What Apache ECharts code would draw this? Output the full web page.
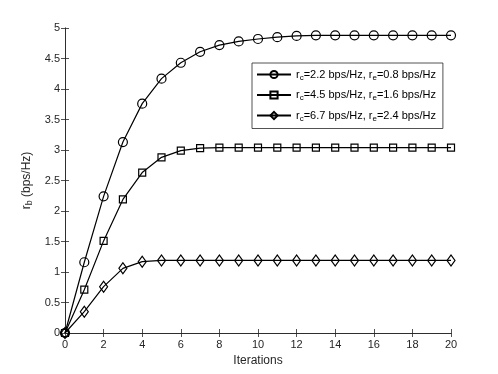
<!DOCTYPE html>
<html>
<head>
<meta charset="utf-8">
<script src="https://cdn.jsdelivr.net/npm/echarts@6/dist/echarts.min.js"></script>
<style>
  html, body { margin: 0; padding: 0; background: #fff; }
  #chart { width: 498px; height: 374px; }
</style>
</head>
<body>
<div id="chart"></div>
<script>
// iterations on the x axis
var iterations = [0, 1, 2, 3, 4, 5, 6, 7, 8, 9, 10, 11, 12, 13, 14, 15, 16, 17, 18, 19, 20];

// r_b values
var rate1 = [0, 1.16, 2.24, 3.13, 3.76, 4.17, 4.43, 4.61, 4.72, 4.78, 4.82, 4.85, 4.87, 4.88, 4.88, 4.88, 4.88, 4.88, 4.88, 4.88, 4.88];
var rate2 = [0, 0.71, 1.51, 2.19, 2.63, 2.88, 2.99, 3.03, 3.04, 3.04, 3.04, 3.04, 3.04, 3.04, 3.04, 3.04, 3.04, 3.04, 3.04, 3.04, 3.04];
var rate3 = [0, 0.35, 0.76, 1.06, 1.17, 1.19, 1.19, 1.19, 1.19, 1.19, 1.19, 1.19, 1.19, 1.19, 1.19, 1.19, 1.19, 1.19, 1.19, 1.19, 1.19];

var names = [
    'r{sub|c}=2.2 bps/Hz, r{sub|e}=0.8 bps/Hz',
    'r{sub|c}=4.5 bps/Hz, r{sub|e}=1.6 bps/Hz',
    'r{sub|c}=6.7 bps/Hz, r{sub|e}=2.4 bps/Hz'
];

var axisColor = '#262626';
var font = 'Liberation Sans, Arial, Helvetica, sans-serif';

function pairs(ys) {
    return iterations.map(function (x, i) { return [x, ys[i]]; });
}

function makeSeries(name, ys, symbol, size) {
    return {
        name: name,
        type: 'line',
        data: pairs(ys),
        symbol: symbol,
        symbolSize: size,
        showAllSymbol: true,
        lineStyle: { color: '#000', width: 1.2 },
        itemStyle: { color: 'rgba(0,0,0,0)', borderColor: '#000', borderWidth: 1.2 },
        emphasis: { disabled: true },
        z: 3
    };
}

var chart = echarts.init(document.getElementById('chart'));

var option = {
    animation: false,
    backgroundColor: '#fff',
    textStyle: { fontFamily: font },
    grid: {
        left: 65,
        right: 47,
        top: 28,
        bottom: 41
    },
    legend: {
        orient: 'vertical',
        left: 252,
        top: 63,
        padding: [6, 7, 6, 4],
        itemGap: 8,
        itemWidth: 34,
        itemHeight: 9,
        borderColor: axisColor,
        borderWidth: 0.8,
        backgroundColor: '#fff',
        data: names,
        textStyle: {
            fontFamily: font,
            fontSize: 11,
            color: '#000',
            rich: {
                sub: { fontSize: 8, verticalAlign: 'bottom', padding: [6, 0, 0, 0], fontFamily: font }
            }
        }
    },
    xAxis: [{
        type: 'value',
        min: 0,
        max: 20,
        interval: 2,
        name: 'Iterations',
        nameLocation: 'middle',
        nameGap: 21,
        nameTextStyle: { fontFamily: font, fontSize: 12, color: axisColor },
        axisLine: { show: true, lineStyle: { color: axisColor, width: 0.8 } },
        axisTick: { show: true, inside: true, length: 4, lineStyle: { color: axisColor, width: 0.8 } },
        axisLabel: { fontFamily: font, fontSize: 11, color: axisColor, margin: 6 },
        splitLine: { show: false }
    }, {
        type: 'value',
        position: 'top',
        min: 0,
        max: 20,
        interval: 2,
        axisLine: { show: true, lineStyle: { color: axisColor, width: 0.8 } },
        axisTick: { show: true, inside: true, length: 4, lineStyle: { color: axisColor, width: 0.8 } },
        axisLabel: { show: false },
        splitLine: { show: false }
    }],
    yAxis: [{
        type: 'value',
        min: 0,
        max: 5,
        interval: 0.5,
        name: 'r{sub|b} (bps/Hz)',
        nameLocation: 'middle',
        nameGap: 24,
        nameTextStyle: {
            fontFamily: font, fontSize: 12, color: axisColor,
            rich: {
                sub: { fontSize: 9, fontFamily: font, color: axisColor, verticalAlign: 'bottom', padding: [6, 0, 0, 0] }
            }
        },
        axisLine: { show: true, lineStyle: { color: axisColor, width: 0.8 } },
        axisTick: { show: true, inside: true, length: 4, lineStyle: { color: axisColor, width: 0.8 } },
        axisLabel: { fontFamily: font, fontSize: 11, color: axisColor, margin: 5 },
        splitLine: { show: false }
    }, {
        type: 'value',
        position: 'right',
        min: 0,
        max: 5,
        interval: 0.5,
        axisLine: { show: true, lineStyle: { color: axisColor, width: 0.8 } },
        axisTick: { show: true, inside: true, length: 4, lineStyle: { color: axisColor, width: 0.8 } },
        axisLabel: { show: false },
        splitLine: { show: false }
    }],
    series: [
        makeSeries(names[0], rate1, 'circle', 9),
        makeSeries(names[1], rate2, 'rect', 7),
        makeSeries(names[2], rate3, 'diamond', [8, 11])
    ]
};

chart.setOption(option);
</script>
</body>
</html>
